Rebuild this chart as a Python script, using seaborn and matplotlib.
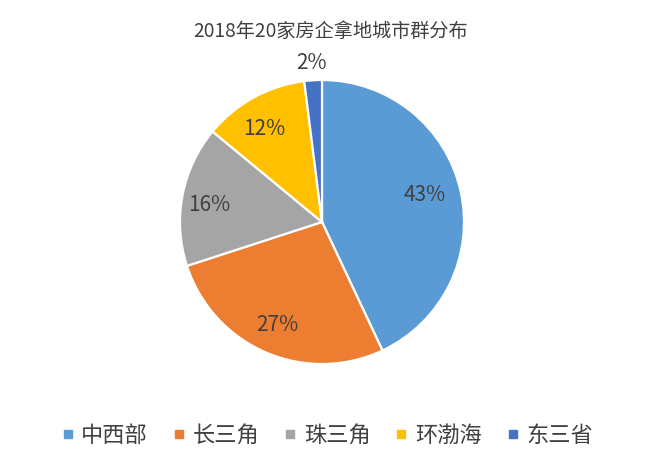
import numpy as np
import matplotlib
matplotlib.use("Agg")
import matplotlib.pyplot as plt
import seaborn as sns
from matplotlib.lines import Line2D

categories = ["中西部", "长三角", "珠三角", "环渤海", "东三省"]
values = [43, 27, 16, 12, 2]
labels_pct = ["43%", "27%", "16%", "12%", "2%"]
title = "2018年20家房企拿地城市群分布"

colors = sns.color_palette(["#5B9BD5", "#ED7D31", "#A5A5A5", "#FFC000", "#4472C4"])
label_radius = [0.75, 0.79, 0.80, 0.77, 1.12]
label_shift_deg = [2.0, 0.0, 2.0, 3.0, 0.0]

sns.set_theme(style="white")
plt.rcParams['font.family'] = ['Noto Sans CJK SC', 'DejaVu Sans']

fig = plt.figure(figsize=(6.66, 4.58), dpi=100)
fig.patch.set_facecolor("white")
ax = fig.add_axes([(322 - 142) / 666, (458 - 364) / 458, 284 / 666, 284 / 458])

wedges, _ = ax.pie(values, colors=colors, startangle=90, counterclock=False,
                   radius=1, wedgeprops=dict(edgecolor="white", linewidth=1.6))
ax.set_xlim(-1, 1)
ax.set_ylim(-1, 1)
ax.set_aspect("equal")
ax.axis("off")

for w, lab, r, s in zip(wedges, labels_pct, label_radius, label_shift_deg):
    th = np.deg2rad((w.theta1 + w.theta2) / 2 + s)
    ax.text(r * np.cos(th), r * np.sin(th), lab, ha="center", va="center",
            fontsize=15, color="#404040")

fig.text(331 / 666, 1 - 31 / 458, title, ha="center", va="center", fontsize=13.8, color="#404040")

handles = [Line2D([0], [0], marker="s", linestyle="", markersize=6,
                  markerfacecolor=c, markeredgecolor=c) for c in colors]
fig.legend(handles, categories, loc="center", bbox_to_anchor=(327 / 666, 1 - 435 / 458),
           ncol=5, frameon=False, fontsize=16, labelcolor="#404040",
           handletextpad=0.3, columnspacing=1.1, handlelength=0.6)

fig.savefig("out.png", dpi=100, facecolor="white")
